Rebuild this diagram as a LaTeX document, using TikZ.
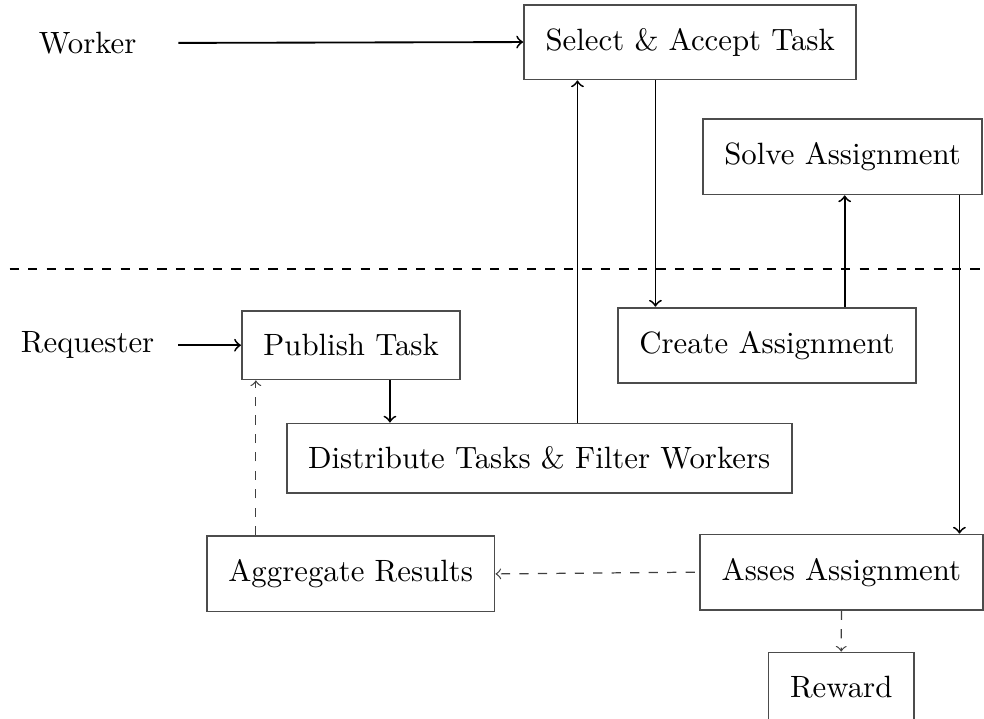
\documentclass[tikz,border=0pt]{standalone}
\usetikzlibrary{positioning}
\tikzset{BoxStyle/.style={draw=black!70,semithick,inner xsep=7pt,inner ysep=7.6pt,anchor=west},
  ActorStyle/.style={minimum width=2.06cm,inner sep=0pt},
  FlowStyle/.style={->,semithick},
  OptStyle/.style={->,dashed,draw=black!75}}

\begin{document}
\begin{tikzpicture}
        \useasboundingbox (0,0) rectangle (11.23,8.20);
        \node[ActorStyle] (worker) at (1.00,7.71) {Worker};
        \node[ActorStyle] (requester) at (1.00,4.26) {Requester};
        \node[BoxStyle] (select) at (5.97,7.72) {Select \& Accept Task};
        \node[BoxStyle] (solve) at (8.01,6.41) {Solve Assignment};
        \node[BoxStyle] (publish) at (2.75,4.26) {Publish Task};
        \node[BoxStyle] (create) at (7.04,4.26) {Create Assignment};
        \node[BoxStyle] (distribute) at (3.26,2.97) {Distribute Tasks \& Filter Workers};
        \node[BoxStyle] (aggregate) at (2.35,1.65) {Aggregate Results};
        \node[BoxStyle] (asses) at (7.98,1.67) {Asses Assignment};
        \node[BoxStyle] (reward) at (8.76,0.36) {Reward};
        \coordinate (sepL) at (0.11,5.13);
        \coordinate (sepR) at (11.23,5.13);
        \draw[dashed] (sepL) -- (sepR);
        \draw[FlowStyle] (worker.east) -- (select.west);
        \draw[FlowStyle] (requester.east) -- (publish.west);
        \draw[FlowStyle] ([xshift=1.51cm]select.south west) -- ([xshift=1.51cm]select.south west |- create.north);
        \draw[FlowStyle] ([xshift=2.60cm]create.north west) -- ([xshift=2.60cm]create.north west |- solve.south);
        \draw[FlowStyle] ([xshift=2.94cm]solve.south west) -- ([xshift=2.94cm]solve.south west |- asses.north);
        \draw[FlowStyle] ([xshift=1.70cm]publish.south west) -- ([xshift=1.70cm]publish.south west |- distribute.north);
        \draw[FlowStyle] ([xshift=3.33cm]distribute.north west) -- ([xshift=3.33cm]distribute.north west |- select.south);
        \draw[OptStyle] ([xshift=0.57cm]aggregate.north west) -- ([xshift=0.57cm]aggregate.north west |- publish.south);
        \draw[OptStyle] ([xshift=-0.05cm]asses.west) -- (aggregate.east);
        \draw[OptStyle] (asses.south) -- (reward.north);
\end{tikzpicture}
\end{document}
